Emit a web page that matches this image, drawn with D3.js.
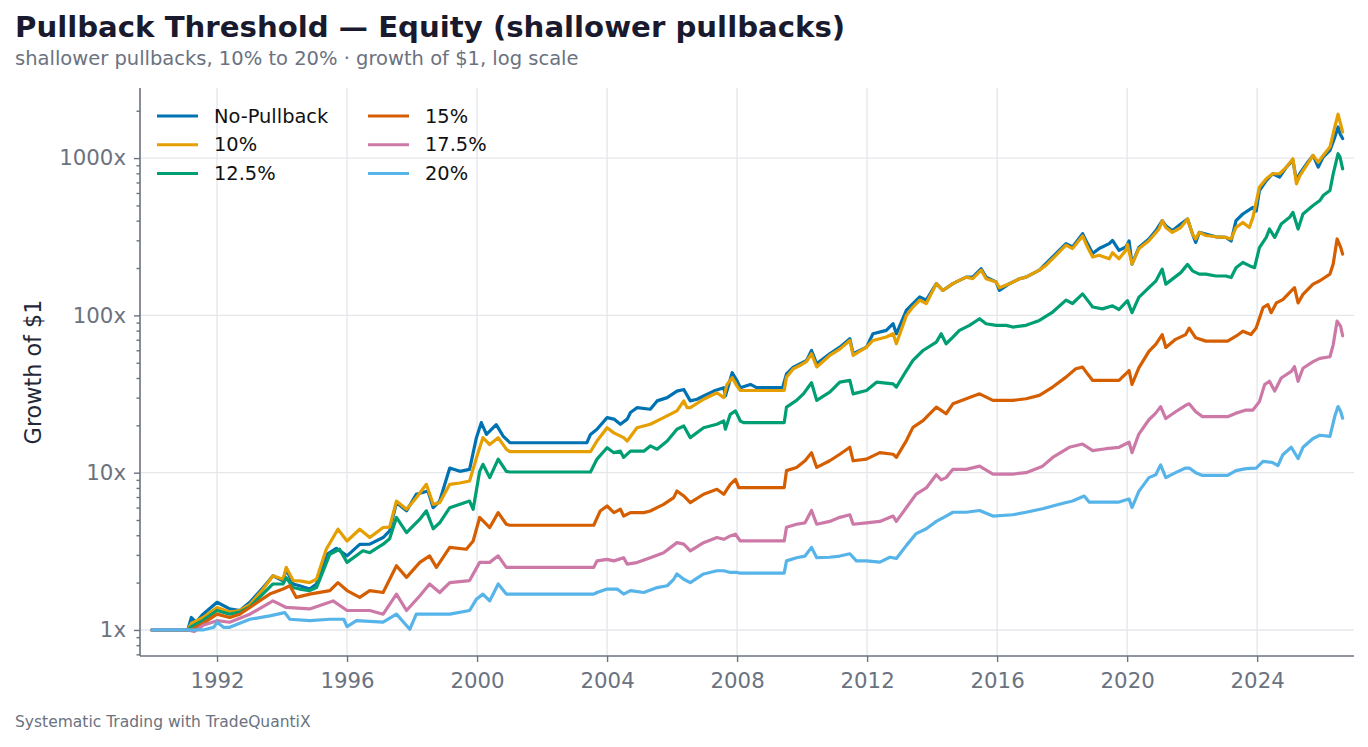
<!DOCTYPE html>
<html>
<head>
<meta charset="utf-8">
<script src="https://cdn.jsdelivr.net/npm/d3@7"></script>
<style>
  body { margin: 0; background: #fff; }
  svg { display: block; font-family: "DejaVu Sans", sans-serif; }
</style>
</head>
<body>
<script>
// growth of $1, [decimal year, multiple]
const noPullback = [
  [1990,1],[1991.1,1],[1991.21,1.2],[1991.35,1.12],[1991.57,1.26],[1992.0,1.5],[1992.39,1.36],[1992.7,1.33],
  [1993.01,1.5],[1993.42,1.86],[1993.72,2.21],[1994.03,2.05],[1994.13,2.44],[1994.34,1.96],[1994.54,1.91],
  [1994.85,1.82],[1995.06,1.96],[1995.36,3.0],[1995.67,3.3],[1996.0,2.96],[1996.39,3.5],[1996.7,3.51],
  [1997.11,3.87],[1997.31,4.27],[1997.52,6.45],[1997.83,5.72],[1998.13,7.29],[1998.49,7.65],[1998.65,5.99],
  [1998.85,6.6],[1999.16,10.7],[1999.47,10.2],[1999.77,10.5],[1999.98,16.7],[2000.13,20.8],[2000.29,17.5],
  [2000.59,20.2],[2000.8,17.1],[2001.01,15.5],[2003.38,15.5],[2003.49,17.5],[2003.69,18.9],[2004.0,22.4],
  [2004.21,21.9],[2004.41,20.3],[2004.62,21.9],[2004.72,24.1],[2004.92,25.9],[2005.33,25.3],[2005.54,28.6],
  [2005.85,30.0],[2006.15,33.0],[2006.36,33.8],[2006.56,28.6],[2006.77,29.3],[2006.97,30.7],[2007.28,33.0],
  [2007.59,34.7],[2007.64,30.7],[2007.85,43.2],[2008.0,38.3],[2008.1,34.7],[2008.41,36.4],[2008.6,34.7],
  [2009.4,34.7],[2009.52,42.5],[2009.73,46.9],[2009.93,49.2],[2010.14,51.7],[2010.29,59.8],[2010.45,49.2],
  [2010.85,57.0],[2011.16,62.8],[2011.47,71.0],[2011.57,57.0],[2011.98,62.8],[2012.18,76.4],[2012.59,80.3],
  [2012.8,88.5],[2012.9,76.4],[2013.21,108],[2013.62,131],[2013.82,125],[2014.13,159],[2014.33,144],
  [2014.64,159],[2014.84,167],[2015.05,175],[2015.25,175],[2015.51,198],[2015.66,175],[2015.97,163],
  [2016.07,144],[2016.38,159],[2016.69,171],[2016.89,175],[2017.3,194],[2017.5,213],[2017.81,247],
  [2018.12,286],[2018.32,272],[2018.63,331],[2018.78,286],[2018.94,247],[2019.14,266],[2019.45,286],
  [2019.55,300],[2019.75,259],[2019.96,272],[2020.06,297],[2020.15,212],[2020.36,270],[2020.67,306],
  [2020.88,345],[2021.08,400],[2021.19,372],[2021.39,345],[2021.65,381],[2021.86,410],[2022.01,329],
  [2022.11,291],[2022.22,337],[2022.42,329],[2022.73,316],[2023.04,313],[2023.2,297],[2023.35,400],
  [2023.56,441],[2023.87,486],[2023.97,460],[2024.07,622],[2024.28,720],[2024.48,795],[2024.69,757],
  [2024.9,876],[2025.1,966],[2025.21,720],[2025.31,795],[2025.52,920],[2025.72,1040],[2025.88,876],
  [2026.03,1015],[2026.24,1120],[2026.39,1360],[2026.49,1577],[2026.55,1430],[2026.63,1330]
]

const pb10 = [
  [1990,1],[1991.1,1],[1991.21,1.1],[1991.57,1.2],[1992.0,1.39],[1992.39,1.3],[1992.7,1.33],[1993.01,1.45],
  [1993.42,1.82],[1993.72,2.21],[1994.03,2.1],[1994.13,2.5],[1994.34,2.06],[1994.54,2.05],[1994.85,2.0],
  [1995.06,2.1],[1995.36,3.26],[1995.72,4.37],[1996.0,3.68],[1996.39,4.37],[1996.7,3.87],[1997.11,4.48],
  [1997.31,4.5],[1997.52,6.6],[1997.83,5.85],[1998.13,6.93],[1998.44,8.43],[1998.65,6.29],[1998.85,6.45],
  [1999.16,8.43],[1999.47,8.6],[1999.77,8.85],[1999.98,12.4],[2000.18,16.7],[2000.39,15.1],[2000.65,16.7],
  [2000.9,14.1],[2001.01,13.6],[2003.49,13.6],[2003.69,15.9],[2004.0,19.3],[2004.21,17.9],[2004.51,16.7],
  [2004.62,15.9],[2004.92,19.3],[2005.33,20.3],[2005.74,22.4],[2006.15,24.7],[2006.36,28.6],[2006.46,25.9],
  [2006.56,25.9],[2006.97,29.3],[2007.38,32.2],[2007.59,30.0],[2007.69,36.4],[2007.85,40.2],[2008.0,35.5],
  [2008.1,33.3],[2009.45,33.3],[2009.52,40.5],[2009.73,45.8],[2009.93,48.0],[2010.14,51.0],[2010.29,57.0],
  [2010.45,47.0],[2010.85,55.6],[2011.16,61.0],[2011.47,69.3],[2011.57,55.6],[2011.98,62.8],[2012.18,69.3],
  [2012.59,72.8],[2012.8,76.4],[2012.9,66.0],[2013.21,100],[2013.41,113],[2013.62,125],[2013.82,119],
  [2014.13,159],[2014.33,144],[2014.64,159],[2014.84,167],[2015.05,175],[2015.25,171],[2015.51,194],
  [2015.66,171],[2015.97,163],[2016.07,150],[2016.38,159],[2016.69,171],[2016.89,175],[2017.3,194],
  [2017.5,208],[2017.81,241],[2018.12,280],[2018.32,266],[2018.63,320],[2018.78,272],[2018.94,235],
  [2019.14,241],[2019.45,229],[2019.55,250],[2019.75,229],[2019.96,259],[2020.01,283],[2020.15,212],
  [2020.36,265],[2020.67,298],[2020.98,354],[2021.08,400],[2021.19,362],[2021.39,337],[2021.65,362],
  [2021.86,410],[2022.01,329],[2022.11,306],[2022.22,337],[2022.42,322],[2022.73,316],[2023.04,313],
  [2023.2,306],[2023.35,362],[2023.56,390],[2023.76,362],[2023.87,420],[2024.07,653],[2024.28,738],
  [2024.48,795],[2024.69,795],[2024.9,876],[2025.1,990],[2025.21,686],[2025.31,770],[2025.52,900],
  [2025.72,1040],[2025.88,940],[2026.03,1040],[2026.24,1175],[2026.39,1577],[2026.49,1900],[2026.55,1700],
  [2026.63,1465]
]

const pb125 = [
  [1990,1],[1991.1,1],[1991.21,1.05],[1991.57,1.15],[1992.0,1.33],[1992.39,1.26],[1992.7,1.3],[1993.01,1.4],
  [1993.42,1.7],[1993.72,1.96],[1994.03,1.96],[1994.13,2.15],[1994.34,1.86],[1994.54,1.82],[1994.85,1.78],
  [1995.06,1.86],[1995.47,3.03],[1995.77,3.26],[1996.0,2.69],[1996.49,3.19],[1996.7,3.1],[1997.11,3.51],
  [1997.31,3.8],[1997.52,5.19],[1997.83,4.16],[1998.24,5.06],[1998.44,5.72],[1998.65,4.4],[1998.85,4.8],
  [1999.16,5.99],[1999.77,6.6],[1999.88,5.85],[2000.08,10.2],[2000.18,11.3],[2000.39,9.3],[2000.65,12.2],
  [2000.9,10.2],[2001.01,10.1],[2003.49,10.1],[2003.69,12.2],[2004.0,14.4],[2004.21,13.4],[2004.41,13.7],
  [2004.51,12.5],[2004.72,13.7],[2005.13,13.7],[2005.33,14.8],[2005.54,14.1],[2005.85,15.9],[2006.15,18.9],
  [2006.36,19.8],[2006.56,16.7],[2006.97,19.3],[2007.38,20.3],[2007.59,21.3],[2007.64,18.9],[2007.79,23.5],
  [2007.95,24.7],[2008.1,21.3],[2008.2,20.8],[2009.45,20.8],[2009.52,26.1],[2009.83,28.8],[2010.04,31.7],
  [2010.29,37.3],[2010.45,28.8],[2010.85,32.5],[2011.16,37.6],[2011.47,38.6],[2011.57,31.7],[2011.98,33.3],
  [2012.29,37.6],[2012.8,36.7],[2012.9,35.0],[2013.21,44.6],[2013.41,51.7],[2013.72,59.8],[2014.13,67.6],
  [2014.28,76.4],[2014.43,66.0],[2014.64,72.8],[2014.84,80.3],[2015.15,86.4],[2015.46,95.2],[2015.66,88.5],
  [2015.97,86.4],[2016.28,86.4],[2016.48,84.3],[2016.89,86.4],[2017.3,92.9],[2017.71,105],[2018.12,125],
  [2018.32,119],[2018.63,137],[2018.78,125],[2018.94,113],[2019.24,110],[2019.55,115],[2019.75,109],
  [2020.01,124],[2020.15,104],[2020.36,130],[2020.67,150],[2020.88,165],[2021.08,197],[2021.19,158],
  [2021.39,170],[2021.65,187],[2021.86,211],[2022.01,192],[2022.22,183],[2022.42,183],[2022.73,178],
  [2023.04,178],[2023.2,174],[2023.35,201],[2023.56,217],[2023.76,207],[2023.92,201],[2024.07,270],
  [2024.28,313],[2024.38,354],[2024.54,313],[2024.74,381],[2025.0,420],[2025.1,452],[2025.26,354],
  [2025.41,441],[2025.72,499],[2025.93,537],[2026.03,578],[2026.24,622],[2026.34,794],[2026.49,1066],
  [2026.55,1015],[2026.63,855]
]

const pb15 = [
  [1990,1],[1991.1,1],[1991.21,1.0],[1991.57,1.1],[1992.0,1.26],[1992.39,1.2],[1992.7,1.26],[1993.01,1.39],
  [1993.62,1.69],[1994.03,1.82],[1994.24,1.91],[1994.44,1.61],[1994.85,1.69],[1995.47,1.78],[1995.72,2.0],
  [1996.0,1.78],[1996.39,1.61],[1996.7,1.78],[1997.11,1.73],[1997.52,2.56],[1997.83,2.16],[1998.24,2.69],
  [1998.54,2.96],[1998.75,2.5],[1999.16,3.35],[1999.67,3.26],[1999.88,3.68],[2000.08,5.19],[2000.39,4.48],
  [2000.65,5.57],[2000.9,4.7],[2001.01,4.63],[2003.59,4.63],[2003.79,5.71],[2004.0,6.14],[2004.21,5.57],
  [2004.41,5.85],[2004.51,5.3],[2004.72,5.57],[2005.13,5.57],[2005.33,5.71],[2005.74,6.29],[2006.05,6.94],
  [2006.15,7.65],[2006.36,7.11],[2006.56,6.45],[2006.97,7.29],[2007.38,7.84],[2007.59,7.29],[2007.79,8.43],
  [2007.95,9.07],[2008.05,8.03],[2009.45,8.03],[2009.52,10.3],[2009.83,10.8],[2010.09,11.9],[2010.29,13.4],
  [2010.45,10.8],[2010.85,11.9],[2011.16,13.1],[2011.47,14.5],[2011.57,11.9],[2011.98,12.2],[2012.39,13.4],
  [2012.8,13.1],[2012.9,12.5],[2013.21,16.0],[2013.41,19.4],[2013.72,21.4],[2014.13,26.1],[2014.28,24.9],
  [2014.43,23.7],[2014.64,27.4],[2015.05,29.5],[2015.46,31.7],[2015.87,28.8],[2016.07,28.8],[2016.48,28.8],
  [2016.89,29.5],[2017.3,31.0],[2017.71,35.0],[2018.12,40.5],[2018.42,45.8],[2018.63,46.9],[2018.78,42.5],
  [2018.94,38.6],[2019.35,38.6],[2019.75,38.6],[2020.06,44.6],[2020.15,36.4],[2020.36,46.4],[2020.67,59],
  [2020.88,65.5],[2021.08,75.5],[2021.19,62.5],[2021.49,70.4],[2021.8,75.5],[2021.91,83],[2022.11,72],
  [2022.42,68.6],[2023.09,68.6],[2023.35,73.7],[2023.56,79.3],[2023.81,75.5],[2023.97,83],[2024.18,112],
  [2024.33,117],[2024.43,104],[2024.59,120],[2024.79,126],[2025.05,143],[2025.15,150],[2025.26,120],
  [2025.41,136],[2025.72,158],[2025.93,166],[2026.24,183],[2026.34,212],[2026.46,306],[2026.57,271],
  [2026.63,245]
]

const pb175 = [
  [1990,1],[1991.1,1],[1991.3,0.98],[1991.57,1.07],[1992.0,1.146],[1992.39,1.12],[1993.01,1.26],[1993.72,1.53],
  [1994.13,1.39],[1994.85,1.36],[1995.57,1.53],[1996.0,1.33],[1996.7,1.33],[1997.11,1.26],[1997.52,1.69],
  [1997.83,1.33],[1998.24,1.65],[1998.54,1.96],[1998.85,1.73],[1999.16,2.0],[1999.77,2.06],[2000.08,2.69],
  [2000.39,2.69],[2000.65,2.96],[2000.9,2.5],[2001.01,2.5],[2003.59,2.5],[2003.69,2.75],[2004.0,2.81],
  [2004.21,2.75],[2004.51,2.88],[2004.62,2.62],[2004.92,2.68],[2005.33,2.88],[2005.74,3.10],[2006.15,3.59],
  [2006.36,3.51],[2006.56,3.18],[2006.97,3.59],[2007.38,3.87],[2007.59,3.77],[2007.79,3.96],[2007.95,4.06],
  [2008.1,3.68],[2009.45,3.68],[2009.52,4.5],[2009.83,4.7],[2010.09,4.8],[2010.29,5.75],[2010.45,4.7],
  [2010.85,4.9],[2011.16,5.2],[2011.47,5.4],[2011.57,4.7],[2011.98,4.8],[2012.39,4.9],[2012.8,5.3],
  [2012.9,4.9],[2013.21,6.0],[2013.51,7.3],[2013.82,8.0],[2014.13,9.7],[2014.28,9.0],[2014.43,9.3],
  [2014.64,10.5],[2015.05,10.5],[2015.46,11.0],[2015.87,9.8],[2016.48,9.8],[2016.89,10.0],[2017.4,11.0],
  [2017.71,12.5],[2018.22,14.5],[2018.63,15.2],[2018.78,14.5],[2018.94,13.8],[2019.35,14.2],[2019.75,14.5],
  [2020.06,15.6],[2020.15,13.4],[2020.36,17.6],[2020.67,21.7],[2020.88,23.9],[2021.03,26.3],[2021.19,22.1],
  [2021.49,24.4],[2021.8,26.8],[2021.91,27.4],[2022.11,24.4],[2022.32,22.7],[2023.09,22.7],[2023.35,23.9],
  [2023.66,25.0],[2023.87,25.0],[2024.07,28.3],[2024.23,36.3],[2024.38,38.1],[2024.54,33.0],[2024.74,40.0],
  [2025.05,44.0],[2025.15,47.3],[2025.26,38.1],[2025.41,46.1],[2025.72,50.8],[2025.93,53.3],[2026.24,54.6],
  [2026.34,65],[2026.46,92],[2026.57,85],[2026.63,74.2]
]

const pb20 = [
  [1990,1],[1991.1,1],[1991.57,1.0],[1991.9,1.04],[1992.0,1.12],[1992.2,1.04],[1992.39,1.04],[1993.01,1.17],
  [1993.62,1.23],[1994.08,1.29],[1994.24,1.17],[1994.85,1.146],[1995.47,1.17],[1995.9,1.17],[1996.0,1.05],
  [1996.29,1.146],[1997.11,1.12],[1997.52,1.26],[1997.93,1.01],[1998.13,1.26],[1998.54,1.26],[1999.16,1.26],
  [1999.77,1.33],[1999.98,1.57],[2000.18,1.69],[2000.39,1.53],[2000.65,1.96],[2000.9,1.69],[2001.01,1.69],
  [2003.59,1.69],[2003.69,1.73],[2004.0,1.82],[2004.31,1.82],[2004.51,1.69],[2004.72,1.78],[2005.13,1.73],
  [2005.54,1.86],[2005.85,1.91],[2006.05,2.10],[2006.15,2.27],[2006.36,2.10],[2006.56,2.0],[2006.97,2.27],
  [2007.38,2.38],[2007.59,2.38],[2007.79,2.32],[2008.0,2.32],[2008.1,2.3],[2009.45,2.3],[2009.52,2.75],
  [2009.83,2.88],[2010.09,2.95],[2010.29,3.35],[2010.45,2.88],[2010.85,2.9],[2011.16,2.95],[2011.47,3.05],
  [2011.67,2.75],[2011.98,2.75],[2012.39,2.7],[2012.7,2.9],[2012.9,2.85],[2013.21,3.45],[2013.51,4.1],
  [2013.82,4.4],[2014.13,4.9],[2014.43,5.3],[2014.64,5.6],[2015.05,5.6],[2015.46,5.75],[2015.87,5.3],
  [2016.48,5.4],[2016.89,5.6],[2017.4,5.9],[2017.91,6.3],[2018.32,6.6],[2018.68,7.1],[2018.83,6.5],
  [2019.35,6.5],[2019.75,6.5],[2020.06,6.8],[2020.15,6.0],[2020.36,7.6],[2020.67,9.3],[2020.88,9.7],
  [2021.03,11.2],[2021.19,9.3],[2021.49,10.0],[2021.8,10.7],[2021.91,10.7],[2022.11,10.0],[2022.32,9.6],
  [2023.09,9.6],[2023.35,10.3],[2023.66,10.6],[2023.97,10.7],[2024.18,11.8],[2024.48,11.6],[2024.64,11.1],
  [2024.79,13.0],[2025.05,14.5],[2025.26,12.3],[2025.41,14.5],[2025.72,16.5],[2025.93,17.3],[2026.24,17.0],
  [2026.39,22.9],[2026.49,26.3],[2026.57,24.5],[2026.63,22.2]
]

const seriesNames = ['No-Pullback', '10%', '12.5%', '15%', '17.5%', '20%']
const seriesData = [noPullback, pb10, pb125, pb15, pb175, pb20]
const yearTicks = [1992, 1996, 2000, 2004, 2008, 2012, 2016, 2020, 2024]
const yMajor = [1, 10, 100, 1000]

const colors = ['#0072B2', '#E69F00', '#009E73', '#D55E00', '#CC79A7', '#56B4E9']

const m = { width: 1368, height: 747, left: 140, right: 1354, top: 88, bottom: 656 }

const svg = d3.select('body').append('svg')
    .attr('width', m.width)
    .attr('height', m.height)

const x = d3.scaleLinear().domain([1989.63, 2026.98]).range([m.left, m.right])
const y = d3.scaleLog().domain([0.683, 2790]).range([m.bottom, m.top])

// grid
const grid = svg.append('g')
grid.selectAll('.vg').data(yearTicks).enter().append('line')
    .attr('x1', d => x(d)).attr('x2', d => x(d))
    .attr('y1', m.top).attr('y2', m.bottom)
    .attr('stroke', '#e5e7eb').attr('stroke-width', 1.4)
grid.selectAll('.hg').data(yMajor).enter().append('line')
    .attr('x1', m.left).attr('x2', m.right)
    .attr('y1', d => y(d)).attr('y2', d => y(d))
    .attr('stroke', '#e5e7eb').attr('stroke-width', 1.4)

// lines
const line = d3.line().x(d => x(d[0])).y(d => y(d[1]))
svg.append('g').selectAll('path')
    .data(seriesData)
    .enter()
    .append('path')
        .attr('d', line)
        .attr('fill', 'none')
        .attr('stroke', (d, i) => colors[i])
        .attr('stroke-width', 3.2)
        .attr('stroke-linejoin', 'round')
        .attr('stroke-linecap', 'round')

// axes
const axisColor = '#6b7280'
const xAxis = svg.append('g')
    .attr('transform', `translate(0,${m.bottom})`)
    .call(d3.axisBottom(x).tickValues(yearTicks).tickFormat(d3.format('d')).tickSize(6).tickPadding(6))
const minor = y.ticks().filter(t => !yMajor.includes(t))
const yAxisMinor = svg.append('g')
    .attr('transform', `translate(${m.left},0)`)
    .call(d3.axisLeft(y).tickValues(minor).tickFormat('').tickSize(3.5))
const yAxis = svg.append('g')
    .attr('transform', `translate(${m.left},0)`)
    .call(d3.axisLeft(y).tickValues(yMajor).tickFormat(d => d + 'x').tickSize(6).tickPadding(8))

;[xAxis, yAxis, yAxisMinor].forEach(a => {
  a.select('.domain').remove()
  a.selectAll('line').attr('stroke', axisColor).attr('stroke-width', 1.4)
  a.selectAll('text').attr('fill', axisColor).attr('font-size', 21.3)
      .attr('font-family', '"DejaVu Sans", sans-serif')
})
xAxis.selectAll('text').attr('dy', '0.95em')

// spines
svg.append('line').attr('x1', m.left).attr('x2', m.left).attr('y1', m.top).attr('y2', m.bottom)
    .attr('stroke', axisColor).attr('stroke-width', 1.6)
svg.append('line').attr('x1', m.left).attr('x2', m.right).attr('y1', m.bottom).attr('y2', m.bottom)
    .attr('stroke', axisColor).attr('stroke-width', 1.6)

// legend
const legend = svg.append('g')
seriesNames.forEach((name, i) => {
  const col = Math.floor(i / 3), row = i % 3
  const lx = 157 + col * 211, ly = 116 + row * 28.7
  legend.append('line')
      .attr('x1', lx).attr('x2', lx + 41).attr('y1', ly).attr('y2', ly)
      .attr('stroke', colors[i]).attr('stroke-width', 3)
  legend.append('text')
      .attr('x', lx + 57).attr('y', ly).attr('dy', '0.35em')
      .attr('font-size', 19.4).attr('fill', '#111')
      .text(name)
})

// titles
svg.append('text').attr('x', 15).attr('y', 37)
    .attr('font-size', 29.2).attr('font-weight', 'bold').attr('fill', '#1a1a2e')
    .text('Pullback Threshold — Equity (shallower pullbacks)')
svg.append('text').attr('x', 15).attr('y', 65)
    .attr('font-size', 19.5).attr('fill', '#6b7280')
    .text('shallower pullbacks, 10% to 20% · growth of $1, log scale')
svg.append('text')
    .attr('transform', `translate(33,${(m.top + m.bottom) / 2}) rotate(-90)`)
    .attr('text-anchor', 'middle').attr('dy', '0.35em')
    .attr('font-size', 22.3).attr('fill', '#1f2937')
    .text('Growth of $1')
svg.append('text').attr('x', 15).attr('y', 727)
    .attr('font-size', 15.5).attr('fill', '#6b7280')
    .text('Systematic Trading with TradeQuantiX')
</script>
</body>
</html>
